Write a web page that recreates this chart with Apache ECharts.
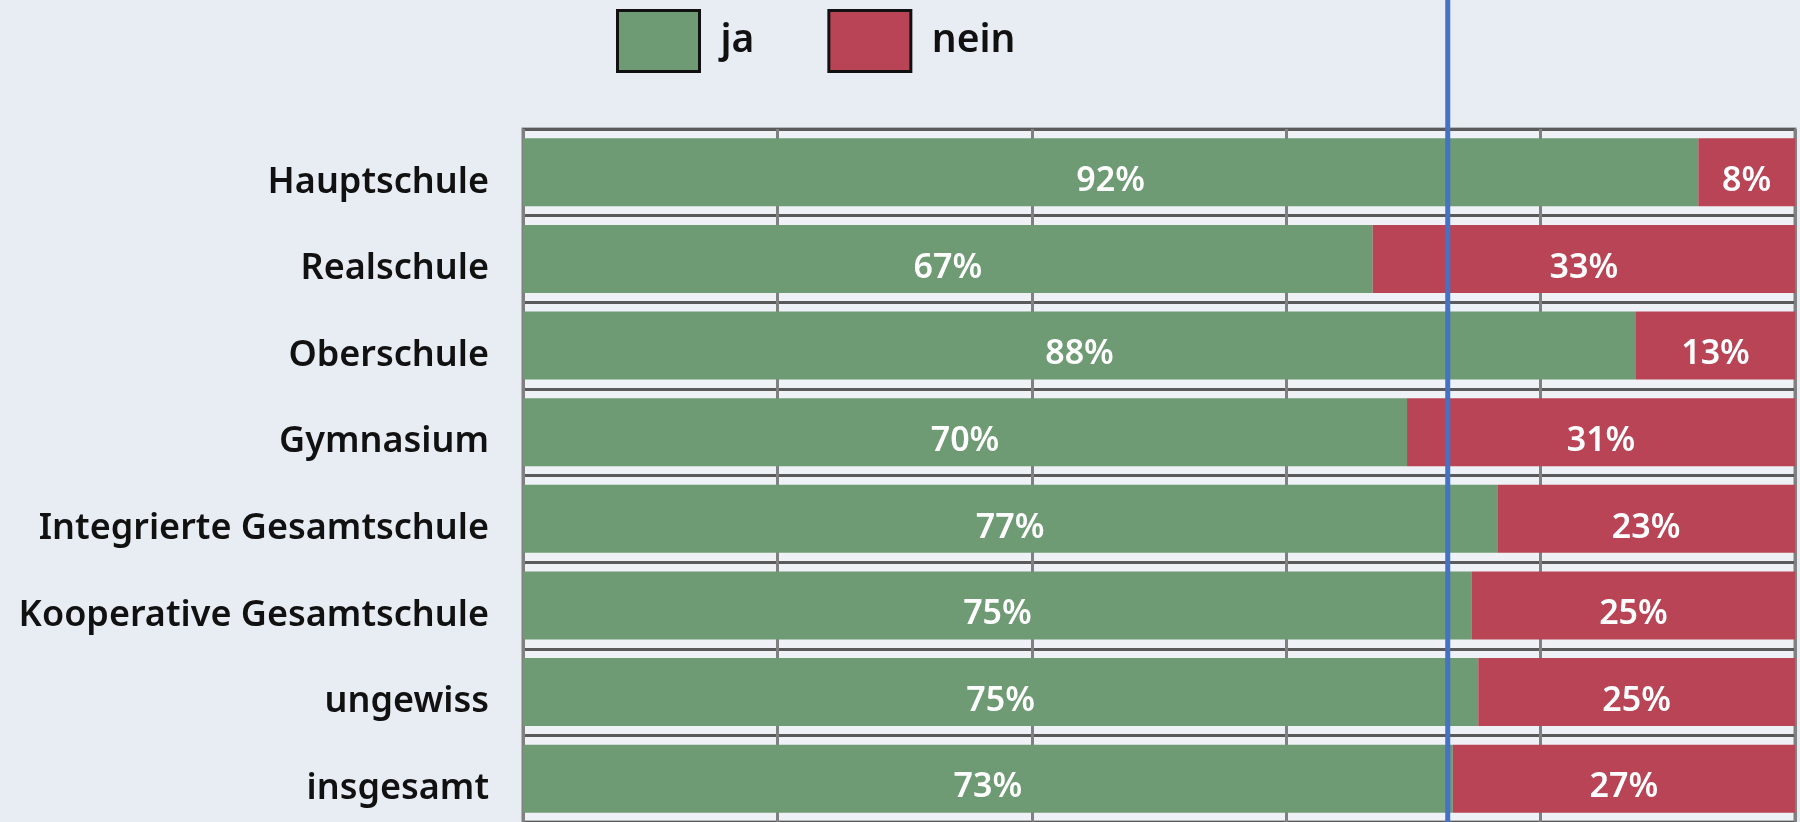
<!DOCTYPE html>
<html>
<head>
<meta charset="utf-8">
<script src="https://cdn.jsdelivr.net/npm/echarts@6/dist/echarts.min.js"></script>
<style>
  html, body { margin: 0; padding: 0; background: #E8EDF4; }
  #chart { width: 1800px; height: 822px; }
</style>
</head>
<body>
<div id="chart"></div>
<script>
// Werte (Anteile in %)
const schulformen = ['Hauptschule', 'Realschule', 'Oberschule', 'Gymnasium',
    'Integrierte Gesamtschule', 'Kooperative Gesamtschule', 'ungewiss', 'insgesamt'];
const jaWerte = [92.4, 66.8, 87.5, 69.5, 76.6, 74.6, 75.1, 73.1];
const neinWerte = [7.6, 33.2, 12.5, 30.5, 23.4, 25.4, 24.9, 26.9];
const mittelJa = 72.7;

let chart;

window.onload = init;

function init() {
    chart = echarts.init(document.getElementById('chart'));

    let labelStyle = {
        show: true,
        position: 'inside',
        offset: [0, 9],
        color: '#fff',
        fontFamily: 'Noto Sans',
        fontSize: 34,
        fontWeight: 600,
        formatter: p => Math.round(p.value) + '%'
    };

    let options = {
        backgroundColor: '#E8EDF4',
        animation: false,
        legend: {
            data: ['ja', 'nein'],
            left: 616,
            top: 9,
            padding: 0,
            icon: 'rect',
            itemWidth: 82,
            itemHeight: 61,
            itemGap: 73,
            itemStyle: { borderColor: '#111', borderWidth: 3 },
            textStyle: {
                fontFamily: 'Noto Sans',
                fontSize: 39,
                fontWeight: 600,
                color: '#111',
                padding: [0, 0, 0, 16]
            }
        },
        grid: {
            left: 523,
            top: 129,
            width: 1272,
            height: 698,
            show: true,
            backgroundColor: '#EEF1F6',
            borderColor: '#808080',
            borderWidth: 3
        },
        xAxis: {
            type: 'value',
            min: 0,
            max: 100,
            interval: 20,
            axisLabel: { show: false },
            axisLine: { show: false },
            axisTick: { show: false },
            splitLine: { show: true, lineStyle: { color: '#808080', width: 3 } }
        },
        yAxis: {
            type: 'category',
            data: schulformen,
            inverse: true,
            axisLine: { show: false },
            axisTick: { show: false },
            axisLabel: {
                margin: 34,
                formatter: v => '{s|' + v + '}',
                rich: {
                    s: {
                        color: '#111',
                        fontFamily: 'Noto Sans',
                        fontSize: 36,
                        fontWeight: 600,
                        padding: [20, 0, 0, 0]
                    }
                }
            },
            splitLine: { show: true, lineStyle: { color: '#5a5a5a', width: 3 } }
        },
        series: [
            {
                name: 'ja',
                type: 'bar',
                stack: 'gesamt',
                data: jaWerte,
                barWidth: 68,
                itemStyle: { color: '#6E9A74' },
                label: labelStyle
            },
            {
                name: 'nein',
                type: 'bar',
                stack: 'gesamt',
                data: neinWerte,
                barWidth: 68,
                itemStyle: { color: '#B94455' },
                label: labelStyle
            }
        ]
    };

    chart.setOption(options);

    // blaue Linie für den Gesamtwert, über die ganze Höhe
    let x = chart.convertToPixel({ xAxisIndex: 0 }, mittelJa);
    chart.setOption({
        graphic: [{
            type: 'line',
            z: 100,
            shape: { x1: x, y1: 0, x2: x, y2: chart.getHeight() },
            style: { stroke: '#4472C4', lineWidth: 5 }
        }]
    });
}
</script>
</body>
</html>
